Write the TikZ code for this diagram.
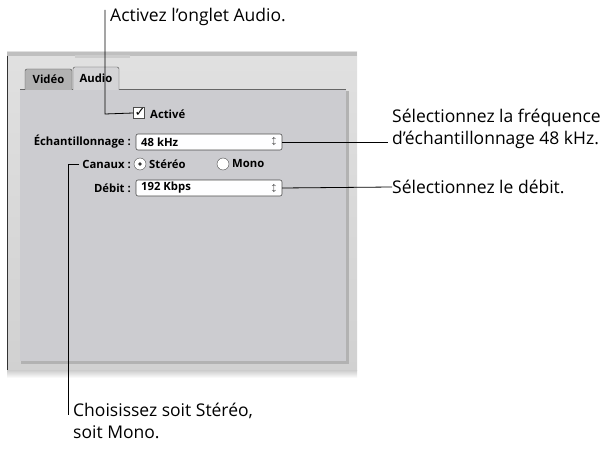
\documentclass[tikz,border=0pt]{standalone}
\usepackage{fontspec}
\setmainfont{Open Sans}
\newfontfamily\symf{DejaVu Sans}
\begin{document}
\begin{tikzpicture}[x=1pt,y=-1pt,
  callout/.style={font=\fontsize{17.5}{22.5}\selectfont, inner sep=0pt, anchor=west, align=left},
  lbl/.style={font=\fontsize{11.3}{12}\selectfont\bfseries, inner sep=0pt},
  popup/.style={draw=black!70, rounded corners=2pt, fill=white!95!blue!5, line width=0.6pt},
  cline/.style={line width=0.8pt, black}]
\useasboundingbox (0,0) rectangle (612,449);
% outer panel
\shade[top color=black!12, bottom color=black!18] (7,52) rectangle (357,370);
\fill[black!25] (7,52) rectangle (357,56);
\fill[white!80!black] (75,55) rectangle (130,58);
\draw[line width=1pt, black!80] (7,56) -- (7,370);
\shade[top color=black!20, bottom color=white] (7,370) rectangle (357,378);
% inner box
\fill[black!30] (21,91) rectangle (349,364);
\fill[blue!8!black!20] (20,89) rectangle (346,361);
\draw[black!60] (20,89) -- (346,89);
% tabs
\draw[black!70, fill=black!30, rounded corners=2pt] (25,90) -- (25,69) -- (72,69) -- (72,90);
\draw[black!70, fill=blue!6!black!17, rounded corners=2pt] (73,90) -- (73,67) -- (119,67) -- (119,90);
\node[lbl] (tv) at (48.5,79) {Vidéo};
\node[lbl] (ta) at (96,78) {Audio};
% checkbox
\node[draw=black!70, fill=white, minimum size=11pt, inner sep=0pt] (cb) at (139,113) {};
\node[font=\symf\fontsize{13}{13}\selectfont, inner sep=0pt] at (140,112) {✓};
\node[lbl, anchor=west] (act) at (150,114) {Activé};
% echantillonnage
\node[lbl, anchor=east] (ech) at (131,142) {Échantillonnage :};
\draw[popup] (136,134) rectangle (282,150);
\node[lbl, anchor=west] (f48) at (141,142) {48 kHz};
\node[font=\fontsize{8}{8}\selectfont, inner sep=0pt] at (274,142) {$\updownarrow$};
\coordinate (p1) at (282,142);
% canaux
\node[lbl, anchor=east] (can) at (131,164) {Canaux :};
\draw[black!70, fill=white] (140,164) circle (6);
\fill[black!80] (140,164) circle (1.8);
\node[lbl, anchor=west] (st) at (149,164) {Stéréo};
\draw[black!70, fill=white] (223,164) circle (6);
\node[lbl, anchor=west] (mo) at (232,164) {Mono};
% debit
\node[lbl, anchor=east] (deb) at (131,188) {Débit :};
\draw[popup] (136,180) rectangle (282,196);
\node[lbl, anchor=west] (f192) at (141,188) {192 Kbps};
\node[font=\fontsize{8}{8}\selectfont, inner sep=0pt] at (274,188) {$\updownarrow$};
\coordinate (p2) at (282,188);
% callouts
\node[callout] (t1) at (110,17) {Activez l’onglet Audio.};
\coordinate (c1) at (105,10);
\draw[cline] (c1) -- (105,114) -- (cb.west);
\node[callout] (t2) at (392,129) {Sélectionnez la fréquence\\d’échantillonnage 48 kHz.};
\draw[cline] (p1) -- (388,142);
\node[callout] (t3) at (392,187) {Sélectionnez le débit.};
\draw[cline] (p2) -- (t3.west);
\node[callout] (t4) at (73,421) {Choisissez soit Stéréo,\\soit Mono.};
\draw[cline] (can.west) ++(-3,0) -- (68,164) -- (68,415);
\end{tikzpicture}
\end{document}
